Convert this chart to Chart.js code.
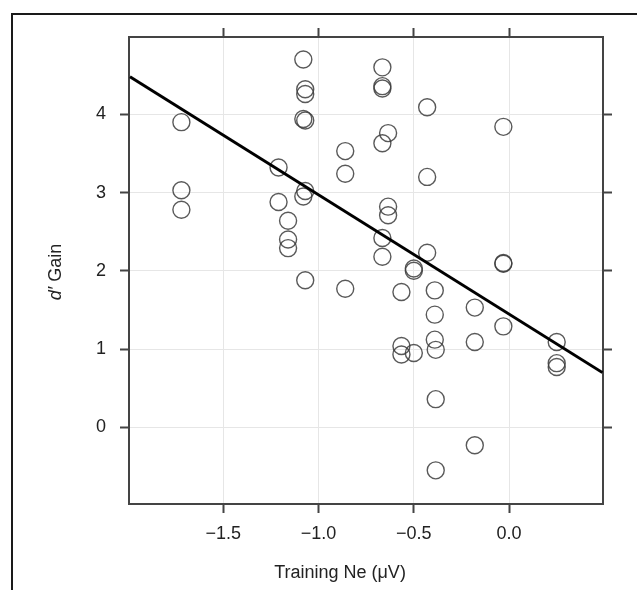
<!DOCTYPE html>
<html>
<head>
<meta charset="utf-8">
<script src="https://cdn.jsdelivr.net/npm/chart.js@4.4.1/dist/chart.umd.min.js"></script>
<style>
  html, body { margin: 0; padding: 0; background: #fff; }
  #wrap { position: relative; width: 637px; height: 590px; overflow: hidden; }
  #frame { position: absolute; left: 11px; top: 13px; width: 700px; height: 700px;
           border-left: 2px solid #1a1a1a; border-top: 2px solid #1a1a1a; }
  canvas { position: absolute; left: 0; top: 0; }
</style>
</head>
<body>
<div id="wrap">
  <div id="frame"></div>
  <canvas id="chart" width="637" height="590"></canvas>
</div>
<script>
// training Ne (µV) vs d' gain, one entry per subject
const neX = [
  -1.72, -1.72, -1.72, -1.08, -1.07, -1.07, -1.08, -1.07, -1.21, -1.07,
  -1.08, -1.21, -1.16, -1.16, -1.16, -0.86, -0.86, -1.07, -0.86, -0.665,
  -0.665, -0.665, -0.43, -0.03, -0.635, -0.665, -0.43, -0.635, -0.635, -0.665,
  -0.665, -0.43, -0.03, -0.03, -0.50, -0.50, -0.565, -0.39, -0.39, -0.18,
  -0.03, -0.39, -0.385, -0.565, -0.565, -0.50, -0.18, 0.25, 0.25, 0.25,
  -0.385, -0.18, -0.385
];
const dGain = [
  3.90, 3.03, 2.78, 4.70, 4.32, 4.26, 3.94, 3.92, 3.32, 3.02,
  2.95, 2.88, 2.64, 2.40, 2.29, 3.53, 3.24, 1.88, 1.77, 4.60,
  4.36, 4.33, 4.09, 3.84, 3.76, 3.63, 3.20, 2.82, 2.71, 2.42,
  2.18, 2.23, 2.09, 2.10, 2.03, 2.00, 1.73, 1.75, 1.44, 1.53,
  1.29, 1.12, 0.99, 1.04, 0.93, 0.95, 1.09, 1.09, 0.82, 0.77,
  0.36, -0.23, -0.55
];

// fitted line, read at the plot edges
const fitX = [-1.99, 0.49];
const fitY = [4.48, 0.70];

const xTickValues = [-1.5, -1.0, -0.5, 0.0];
const yTickValues = [0, 1, 2, 3, 4];
const xRange = [-1.995, 0.493];
const yRange = [-0.98, 4.988];

const FONT = "'Liberation Sans', Arial, Helvetica, sans-serif";
const AXIS = '#444';
const GRID = '#e6e6e6';

const points = neX.map((x, i) => ({ x: x, y: dGain[i] }));
const fitLine = fitX.map((x, i) => ({ x: x, y: fitY[i] }));

const fmtX = (v) => {
  const s = Math.abs(v).toFixed(1);
  return v < 0 ? '\u2212' + s : s;
};

const setTicks = (vals) => (scale) => {
  scale.ticks = vals.map(v => ({ value: v }));
};

// axis titles: the y one has an italic d', the x one sits left of centre
const axisTitles = {
  id: 'axisTitles',
  afterDraw(chart) {
    const ctx = chart.ctx;
    ctx.save();
    ctx.fillStyle = '#222';
    ctx.textBaseline = 'alphabetic';

    ctx.font = '18px ' + FONT;
    ctx.textAlign = 'center';
    ctx.fillText('Training Ne (\u03BCV)', 340, 578);

    const partA = 'd\u2032';
    const partB = ' Gain';
    ctx.textAlign = 'left';
    ctx.font = 'italic 18px ' + FONT;
    const wA = ctx.measureText(partA).width;
    ctx.font = '18px ' + FONT;
    const wB = ctx.measureText(partB).width;
    ctx.translate(61, 272);
    ctx.rotate(-Math.PI / 2);
    const start = -(wA + wB) / 2;
    ctx.font = 'italic 18px ' + FONT;
    ctx.fillText(partA, start, 0);
    ctx.font = '18px ' + FONT;
    ctx.fillText(partB, start + wA, 0);
    ctx.restore();
  }
};

const ctx = document.getElementById('chart').getContext('2d');
new Chart(ctx, {
  data: {
    datasets: [
      {
        type: 'scatter',
        data: points,
        pointRadius: 8.5,
        pointHoverRadius: 8.5,
        pointBorderWidth: 1.4,
        pointBorderColor: 'rgba(60,60,60,0.85)',
        pointBackgroundColor: 'rgba(0,0,0,0)',
        order: 2
      },
      {
        type: 'line',
        data: fitLine,
        borderColor: '#000',
        borderWidth: 3,
        pointRadius: 0,
        fill: false,
        order: 1
      }
    ]
  },
  options: {
    responsive: false,
    animation: false,
    events: [],
    layout: { padding: 0 },
    plugins: {
      legend: { display: false },
      tooltip: { enabled: false }
    },
    scales: {
      x: {
        type: 'linear',
        position: 'bottom',
        min: xRange[0],
        max: xRange[1],
        afterBuildTicks: setTicks(xTickValues),
        afterFit: (s) => { s.height = 86; },
        grid: { color: GRID, lineWidth: 1, tickColor: AXIS, tickLength: 9, tickWidth: 2 },
        border: { color: AXIS, width: 2 },
        ticks: {
          color: '#222',
          padding: 10.5,
          maxRotation: 0,
          font: { family: FONT, size: 18 },
          callback: (v) => fmtX(v)
        }
      },
      x2: {
        type: 'linear',
        position: 'top',
        min: xRange[0],
        max: xRange[1],
        afterBuildTicks: setTicks(xTickValues),
        afterFit: (s) => { s.height = 37; },
        grid: { drawOnChartArea: false, tickColor: AXIS, tickLength: 9, tickWidth: 2 },
        border: { color: AXIS, width: 2 },
        ticks: { display: false }
      },
      y: {
        type: 'linear',
        position: 'left',
        min: yRange[0],
        max: yRange[1],
        afterBuildTicks: setTicks(yTickValues),
        afterFit: (s) => { s.width = 129; },
        grid: { color: GRID, lineWidth: 1, tickColor: AXIS, tickLength: 9, tickWidth: 2 },
        border: { color: AXIS, width: 2 },
        ticks: {
          color: '#222',
          padding: 14,
          font: { family: FONT, size: 18 },
          callback: (v) => String(v)
        }
      },
      y2: {
        type: 'linear',
        position: 'right',
        min: yRange[0],
        max: yRange[1],
        afterBuildTicks: setTicks(yTickValues),
        afterFit: (s) => { s.width = 34; },
        grid: { drawOnChartArea: false, tickColor: AXIS, tickLength: 9, tickWidth: 2 },
        border: { color: AXIS, width: 2 },
        ticks: { display: false }
      }
    }
  },
  plugins: [axisTitles]
});
</script>
</body>
</html>
